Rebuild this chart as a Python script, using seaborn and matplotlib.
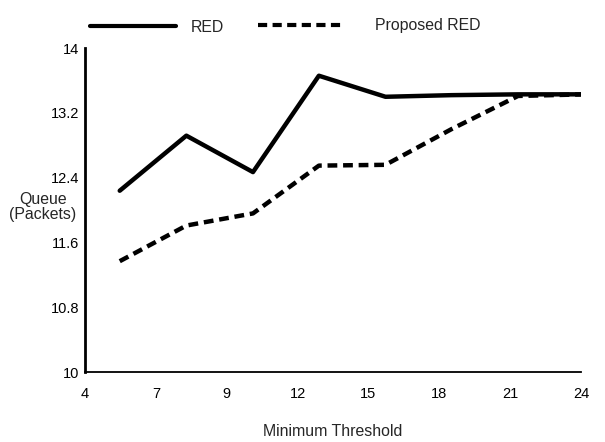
import matplotlib
matplotlib.use("Agg")
import matplotlib.pyplot as plt
import seaborn as sns
import pandas as pd

# Data (x on the chart's evenly spaced category axis; 0 = "4", 7 = "24")
x_pos = [0.49, 1.43, 2.37, 3.30, 4.24, 5.17, 6.11, 7.05]
red = [12.24, 12.92, 12.47, 13.66, 13.40, 13.42, 13.43, 13.43]
proposed_red = [11.37, 11.81, 11.96, 12.55, 12.56, 13.00, 13.41, 13.43]
x_tick_labels = ["4", "7", "9", "12", "15", "18", "21", "24"]
y_ticks = [10, 10.8, 11.6, 12.4, 13.2, 14]
y_tick_labels = ["10", "10.8", "11.6", "12.4", "13.2", "14"]

df = pd.DataFrame({
    "x": x_pos + x_pos,
    "Queue": red + proposed_red,
    "Scheme": ["RED"] * len(red) + ["Proposed RED"] * len(proposed_red),
})

sns.set_theme(style="white")
plt.rcParams["font.family"] = ["Liberation Sans", "DejaVu Sans"]

fig = plt.figure(figsize=(6.05, 4.42), dpi=100)
ax = fig.add_axes([0.1405, 0.158, 0.82, 0.733])

sns.lineplot(data=df, x="x", y="Queue", hue="Scheme", style="Scheme",
             palette={"RED": "black", "Proposed RED": "black"},
             dashes={"RED": "", "Proposed RED": (2.2, 1.3)},
             linewidth=3.2, ax=ax, legend=True)

ax.set_xlim(0, 7)
ax.set_ylim(10, 14)
ax.set_xticks(range(len(x_tick_labels)))
ax.set_xticklabels(x_tick_labels, fontsize=10.5)
ax.set_yticks(y_ticks)
ax.set_yticklabels(y_tick_labels, fontsize=10.5)
ax.set_xlabel("Minimum Threshold", fontsize=11.4, labelpad=16)
ax.set_ylabel("Queue\n(Packets)", fontsize=11.4, rotation=0, labelpad=0,
              ha="center", va="center", linespacing=1.05)
ax.yaxis.set_label_coords(-0.085, 0.51)

for s in ["top", "right"]:
    ax.spines[s].set_visible(False)
ax.spines["left"].set_linewidth(2.0)
ax.spines["bottom"].set_linewidth(1.3)
ax.spines["left"].set_color("black")
ax.spines["bottom"].set_color("black")
ax.tick_params(axis="y", direction="inout", length=6, width=1.3, pad=1, colors="black")
ax.tick_params(axis="x", direction="out", length=5, width=1.3, pad=6, colors="black")

handles, labels = ax.get_legend_handles_labels()
ax.get_legend().remove()
hmap = dict(zip(labels, handles))

leg1 = ax.legend([hmap["RED"]], ["RED"], frameon=False, fontsize=11.4,
                 handlelength=5.4, handletextpad=0.95, borderpad=0,
                 borderaxespad=0, loc="center left",
                 bbox_to_anchor=(90 / 605, 0.938), bbox_transform=fig.transFigure)
for lh in leg1.get_lines():
    lh.set_linewidth(3)
ax.add_artist(leg1)

leg2 = ax.legend([hmap["Proposed RED"]], ["Proposed RED"], frameon=False, fontsize=11.4,
                 handlelength=5.4, handletextpad=2.0, borderpad=0,
                 borderaxespad=0, loc="center left",
                 bbox_to_anchor=(258 / 605, 0.942), bbox_transform=fig.transFigure)
for lh in leg2.get_lines():
    lh.set_linewidth(3)

fig.savefig("out.png", dpi=100, facecolor="white")
